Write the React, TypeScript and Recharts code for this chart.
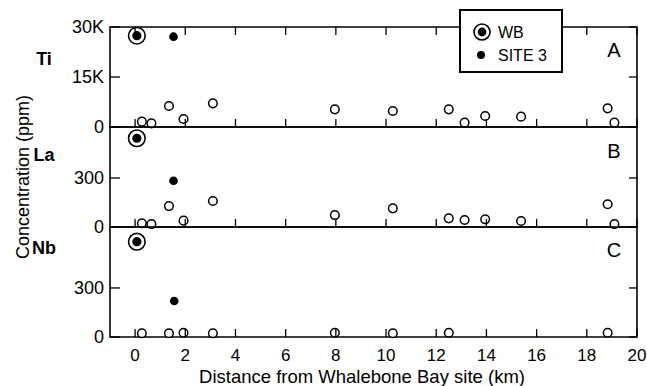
import React from 'react';
import { ReferenceArea, Scatter, ScatterChart, XAxis, YAxis } from 'recharts';

// distances of the regional samples (km from Whalebone Bay)
const sampleKm = [0.27, 0.65, 1.35, 1.93, 3.1, 7.96, 10.27, 12.5, 13.13, 13.95, 15.38, 18.83, 19.1];
const tiPpm = [1600, 1100, 6300, 2400, 7100, 5300, 4800, 5300, 1300, 3300, 3100, 5600, 1300];
const laPpm = [23, 18, 128, 39, 159, 73, 114, 53, 43, 47, 37, 139, 18];
const nbPpm = [23, null, 23, 26, 23, 26, 23, 26, null, null, null, 26, null];

// WB and SITE 3, in the order Ti, La, Nb
const wbKm = [0.07, 0.07, 0.07];
const wbPpm = [27400, 543, 583];
const site3Km = [1.53, 1.53, 1.56];
const site3Ppm = [27100, 283, 220];

const xTicks = [0, 2, 4, 6, 8, 10, 12, 14, 16, 18, 20];
const tiTicks = [0, 15000, 30000];
const laTicks = [0, 300];
const nbTicks = [0, 300];

const FONT = '"Liberation Sans", Arial, Helvetica, sans-serif';
const W = 647;
const H = 386;
const LEFT = 110;
const RIGHT = 637;

const panels = [
  { letter: 'A', name: 'Ti', values: tiPpm, top: 27, bottom: 127, max: 30000, ticks: tiTicks, topTicks: true, labels: false, nameY: 65, letterY: 57 },
  { letter: 'B', name: 'La', values: laPpm, top: 127, bottom: 227, max: 612, ticks: laTicks, topTicks: false, labels: false, nameY: 161, letterY: 158 },
  { letter: 'C', name: 'Nb', values: nbPpm, top: 227, bottom: 337, max: 673, ticks: nbTicks, topTicks: false, labels: true, nameY: 254, letterY: 257 },
];

function fmtY(v: number) {
  if (v >= 1000) return `${v / 1000}K`;
  return String(v);
}

const OpenDot = (props: any) => (
  <circle cx={props.cx} cy={props.cy} r={4.3} fill="#fff" stroke="#000" strokeWidth={1.5} />
);
const FilledDot = (props: any) => <circle cx={props.cx} cy={props.cy} r={4.3} fill="#000" />;
const RingDot = (props: any) => (
  <g>
    <circle cx={props.cx} cy={props.cy} r={8.3} fill="#fff" stroke="#000" strokeWidth={1.6} />
    <circle cx={props.cx} cy={props.cy} r={4.6} fill="#000" />
  </g>
);

function Panel({ p, idx }: { p: any; idx: number }) {
  const open = sampleKm
    .map((x, i) => ({ x, y: p.values[i] }))
    .filter((d) => d.y !== null);
  const wb = [{ x: wbKm[idx], y: wbPpm[idx] }];
  const site3 = [{ x: site3Km[idx], y: site3Ppm[idx] }];
  const xh = p.labels ? 30 : 2;

  const xTick = (props: any) => {
    const { x, payload } = props;
    return (
      <g>
        <line x1={x} x2={x} y1={p.bottom} y2={p.bottom - 8} stroke="#000" strokeWidth={1.3} />
        {p.topTicks && <line x1={x} x2={x} y1={p.top} y2={p.top + 8} stroke="#000" strokeWidth={1.3} />}
        {p.labels && (
          <text x={x} y={p.bottom + 24} textAnchor="middle" fontSize={17} fontFamily={FONT} fill="#000">
            {payload.value}
          </text>
        )}
      </g>
    );
  };

  const yTick = (props: any) => {
    const { y, payload } = props;
    return (
      <g>
        <text x={LEFT - 6} y={y} dy="0.36em" textAnchor="end" fontSize={18} fontFamily={FONT} fill="#000">
          {fmtY(payload.value)}
        </text>
        <line x1={LEFT} x2={LEFT + 10} y1={y} y2={y} stroke="#000" strokeWidth={1.3} />
        <line x1={RIGHT} x2={RIGHT - 8} y1={y} y2={y} stroke="#000" strokeWidth={1.3} />
      </g>
    );
  };

  return (
    <ScatterChart
      width={W}
      height={H}
      margin={{ top: p.top, right: W - RIGHT, bottom: H - p.bottom - xh, left: 0 }}
    >
      <XAxis
        type="number"
        dataKey="x"
        domain={[-1, 20]}
        ticks={xTicks}
        interval={0}
        height={xh}
        axisLine={false}
        tickLine={false}
        tick={xTick}
      />
      <YAxis
        type="number"
        dataKey="y"
        domain={[0, p.max]}
        ticks={p.ticks}
        interval={0}
        width={LEFT}
        axisLine={false}
        tickLine={false}
        tick={yTick}
      />
      <ReferenceArea x1={-1} x2={20} y1={0} y2={p.max} fill="none" stroke="#000" strokeWidth={1.6} />
      <Scatter data={open} shape={OpenDot} isAnimationActive={false} />
      <Scatter data={site3} shape={FilledDot} isAnimationActive={false} />
      <Scatter data={wb} shape={RingDot} isAnimationActive={false} />
    </ScatterChart>
  );
}

export default function App() {
  return (
    <div style={{ position: 'absolute', left: 0, top: 0, width: W, height: H, background: '#fff' }}>
      {panels.map((p, i) => (
        <div key={p.letter} style={{ position: 'absolute', left: 0, top: 0 }}>
          <Panel p={p} idx={i} />
        </div>
      ))}
      <svg width={W} height={H} style={{ position: 'absolute', left: 0, top: 0, pointerEvents: 'none' }}>
        {panels.map((p) => (
          <g key={p.letter}>
            <text x={44} y={p.nameY} textAnchor="middle" fontSize={18} fontWeight="bold" fontFamily={FONT}>
              {p.name}
            </text>
            <text x={614} y={p.letterY} textAnchor="middle" fontSize={20} fontFamily={FONT}>
              {p.letter}
            </text>
          </g>
        ))}
        <text x={23} y={177} transform="rotate(-90 23 177)" textAnchor="middle" dominantBaseline="central"
          fontSize={18} fontFamily={FONT}>Concentration (ppm)</text>
        <text x={362} y={383} textAnchor="middle" fontSize={18.5} fontFamily={FONT}>
          Distance from Whalebone Bay site  (km)
        </text>
        <rect x={460} y={10} width={102} height={62} fill="#fff" stroke="#000" strokeWidth={2} />
        <circle cx={482} cy={32} r={8} fill="#fff" stroke="#000" strokeWidth={1.6} />
        <circle cx={482} cy={32} r={4.4} fill="#000" />
        <circle cx={481} cy={55} r={4} fill="#000" />
        <text x={498} y={38} fontSize={16} fontFamily={FONT}>WB</text>
        <text x={498} y={61} fontSize={16} fontFamily={FONT}>SITE 3</text>
      </svg>
    </div>
  );
}
